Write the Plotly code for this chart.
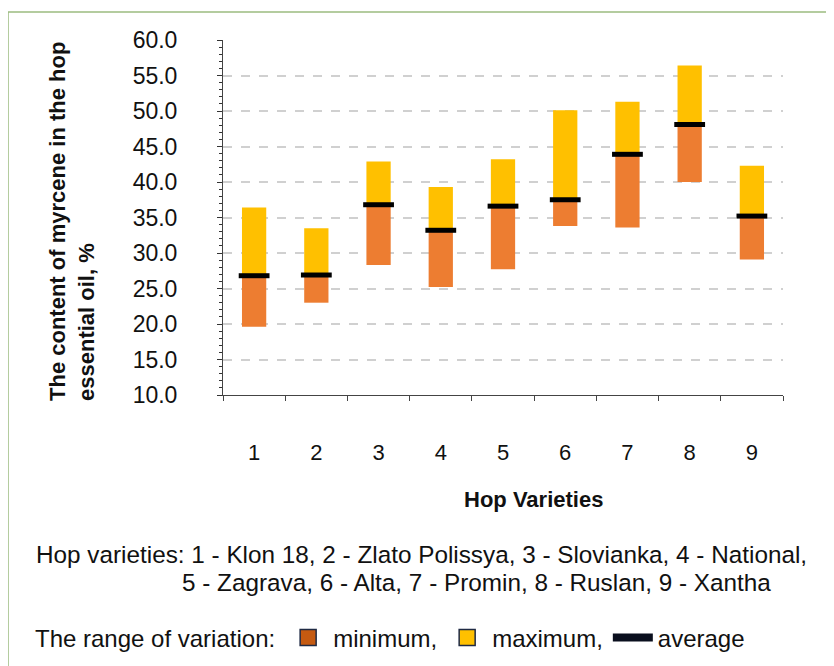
import plotly.graph_objects as go

categories = ["1", "2", "3", "4", "5", "6", "7", "8", "9"]
minimum = [19.6, 23.0, 28.3, 25.2, 27.7, 33.8, 33.6, 40.0, 29.1]
average = [26.8, 26.9, 36.8, 33.2, 36.6, 37.5, 43.9, 48.1, 35.2]
maximum = [36.4, 33.5, 42.9, 39.3, 43.2, 50.1, 51.3, 56.4, 42.3]
y_ticks = [10, 15, 20, 25, 30, 35, 40, 45, 50, 55, 60]

FONT = "Arial, 'Liberation Sans', sans-serif"
ORANGE = "#ED7D31"
YELLOW = "#FFC000"
TXT = "#111111"

low_height = [a - m for a, m in zip(average, minimum)]
high_height = [x - a for x, a in zip(maximum, average)]

fig = go.Figure()
fig.add_trace(go.Bar(x=categories, y=low_height, base=minimum, width=0.39,
                     marker=dict(color=ORANGE, line=dict(width=0)), showlegend=False))
fig.add_trace(go.Bar(x=categories, y=high_height, base=average, width=0.39,
                     marker=dict(color=YELLOW, line=dict(width=0)), showlegend=False))
fig.add_trace(go.Scatter(x=categories, y=average, mode="markers",
                         marker=dict(symbol="line-ew", size=22, color="black",
                                     line=dict(width=5, color="black")),
                         showlegend=False))
# legend entries
fig.add_trace(go.Scatter(x=[None], y=[None], name="minimum,", mode="markers",
                         marker=dict(symbol="square", size=16, color="#C55A11",
                                     line=dict(width=1.5, color="#1F2A44"))))
fig.add_trace(go.Scatter(x=[None], y=[None], name="maximum,", mode="markers",
                         marker=dict(symbol="square", size=16, color=YELLOW,
                                     line=dict(width=1.5, color="#1F2A44"))))
fig.add_trace(go.Scatter(x=[None], y=[None], name="average", mode="lines",
                         line=dict(color="#0A0F1E", width=8)))

# page offset of 8px (body margin) handled by the margins
L, R, T, B = 215, 51, 32, 279
W, H = 826, 666
pw, ph = W - L - R, H - T - B

def px(x):
    return (x - 8 - L) / pw

def py(y):
    return (H - B - (y - 8)) / ph

fig.update_layout(
    width=W, height=H,
    margin=dict(l=L, r=R, t=T, b=B, autoexpand=False),
    paper_bgcolor="white", plot_bgcolor="white",
    font=dict(family=FONT, color=TXT, size=22),
    barmode="overlay",
    xaxis=dict(type="category", categoryorder="array", categoryarray=categories,
               range=[-0.5, 8.5], showline=True, linecolor="#444444", linewidth=1,
               ticks="outside", tickson="boundaries", ticklen=5, tickcolor="#444444",
               showgrid=False, tickfont=dict(size=22), ticklabelstandoff=38,
               automargin=False),
    yaxis=dict(range=[10, 60], tickvals=y_ticks, tickformat=".1f",
               showline=True, linecolor="#444444", linewidth=1,
               ticks="outside", ticklen=5, tickcolor="#333333",
               showgrid=True, gridcolor="#d0d0d0", griddash="dash", gridwidth=1.5,
               zeroline=False, tickfont=dict(size=23), ticklabelstandoff=35,
               automargin=False,
               minor=dict(dtick=1, ticks="outside", ticklen=3, tickcolor="#333333",
                          showgrid=False)),
    legend=dict(orientation="h", x=px(33), y=py(638), xanchor="left", yanchor="middle",
                title=dict(text="The range of variation:", font=dict(size=24)),
                font=dict(size=24), bgcolor="rgba(0,0,0,0)", itemwidth=40,
                traceorder="normal"),
    showlegend=True,
)

fig.add_annotation(text="<b>The content of myrcene in the hop<br>essential oil, %</b>",
                   xref="paper", yref="paper", x=px(72), y=py(222),
                   xanchor="center", yanchor="middle", textangle=-90, align="left",
                   showarrow=False, font=dict(size=22, family=FONT, color=TXT))
fig.add_annotation(text="<b>Hop Varieties</b>", xref="paper", yref="paper",
                   x=px(533), y=py(499), xanchor="center", yanchor="middle",
                   showarrow=False, font=dict(size=22, family=FONT, color=TXT))
fig.add_annotation(text="Hop varieties: 1 - Klon 18, 2 - Zlato Polissya, 3 - Slovianka, 4 - National,",
                   xref="paper", yref="paper", x=px(34), y=py(554),
                   xanchor="left", yanchor="middle", showarrow=False,
                   font=dict(size=24.3, family=FONT, color=TXT))
fig.add_annotation(text="5 - Zagrava, 6 - Alta, 7 - Promin, 8 - Ruslan, 9 - Xantha",
                   xref="paper", yref="paper", x=px(180), y=py(582),
                   xanchor="left", yanchor="middle", showarrow=False,
                   font=dict(size=24.3, family=FONT, color=TXT))

# outer frame
fig.add_shape(type="line", xref="paper", yref="paper", x0=px(8), x1=px(8),
              y0=py(12), y1=py(680), line=dict(color="#9BBB7F", width=1.5))
fig.add_shape(type="line", xref="paper", yref="paper", x0=px(8), x1=px(850),
              y0=py(12), y1=py(12), line=dict(color="#9BBB7F", width=1.5))

fig.write_html("out.html")
